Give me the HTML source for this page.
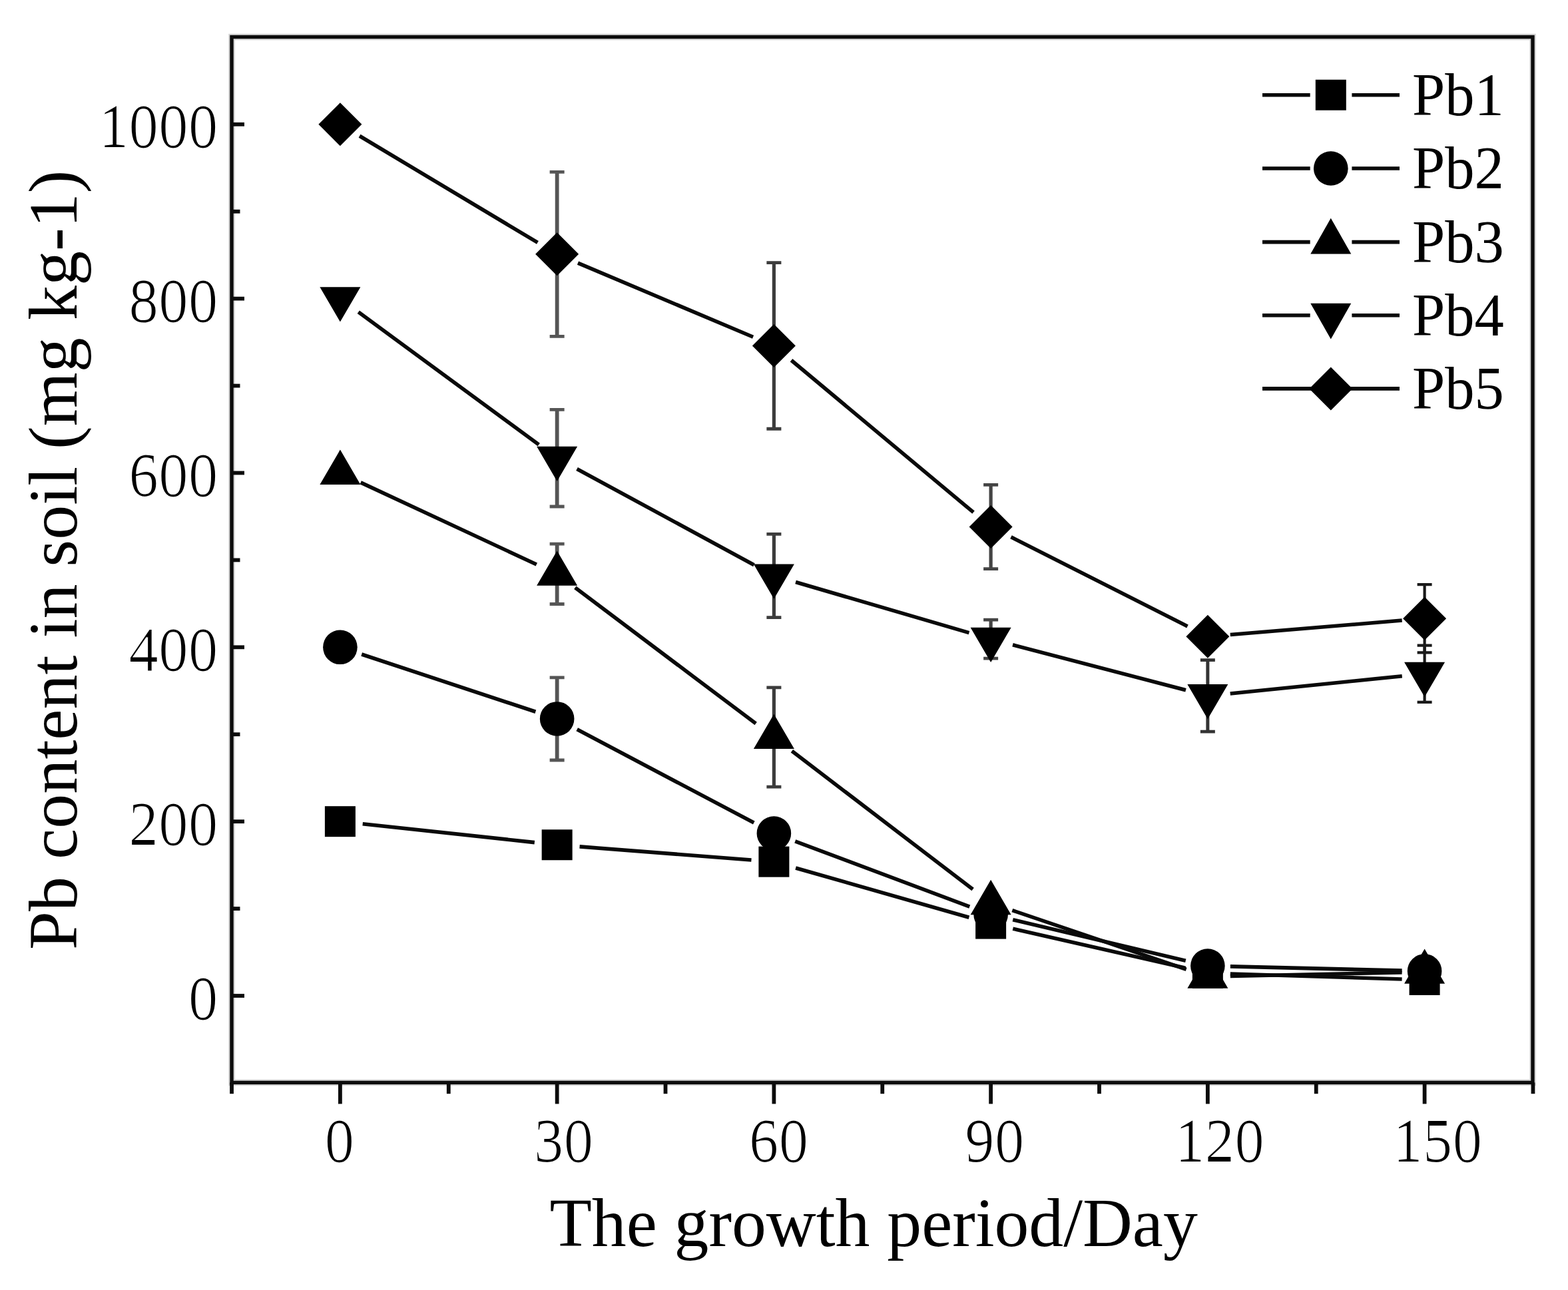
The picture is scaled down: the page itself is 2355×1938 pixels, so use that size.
<!DOCTYPE html>
<html lang="en"><head><meta charset="utf-8"><title>Pb content in soil</title>
<style>html,body{margin:0;padding:0;background:#fff;}body{width:2355px;height:1938px;overflow:hidden;}svg{display:block;}text{font-family:"Liberation Serif",serif;fill:#000;}</style></head><body>
<svg width="2355" height="1938" viewBox="0 0 2355 1938">
<rect x="0" y="0" width="2355" height="1938" fill="#fff"/>
<rect x="348.0" y="55.5" width="1954.0" height="1570.9" fill="none" stroke="#d4d4d4" stroke-width="9.5"/>
<g id="frame" fill="none" stroke="#0c0c0c" stroke-width="5.4" stroke-linecap="butt">
<rect x="348.0" y="55.5" width="1954.0" height="1570.9"/>
</g>
<g id="ticks" fill="none" stroke="#0c0c0c" stroke-width="5.8" stroke-linecap="butt">
<line x1="348.0" y1="1496.00" x2="367.0" y2="1496.00"/>
<line x1="348.0" y1="1365.08" x2="360.5" y2="1365.08"/>
<line x1="348.0" y1="1234.16" x2="367.0" y2="1234.16"/>
<line x1="348.0" y1="1103.24" x2="360.5" y2="1103.24"/>
<line x1="348.0" y1="972.32" x2="367.0" y2="972.32"/>
<line x1="348.0" y1="841.40" x2="360.5" y2="841.40"/>
<line x1="348.0" y1="710.48" x2="367.0" y2="710.48"/>
<line x1="348.0" y1="579.56" x2="360.5" y2="579.56"/>
<line x1="348.0" y1="448.64" x2="367.0" y2="448.64"/>
<line x1="348.0" y1="317.72" x2="360.5" y2="317.72"/>
<line x1="348.0" y1="186.80" x2="367.0" y2="186.80"/>
<line x1="348.03" y1="1626.4" x2="348.03" y2="1643.2"/>
<line x1="510.90" y1="1626.4" x2="510.90" y2="1658.4"/>
<line x1="673.77" y1="1626.4" x2="673.77" y2="1643.2"/>
<line x1="836.64" y1="1626.4" x2="836.64" y2="1658.4"/>
<line x1="999.51" y1="1626.4" x2="999.51" y2="1643.2"/>
<line x1="1162.38" y1="1626.4" x2="1162.38" y2="1658.4"/>
<line x1="1325.25" y1="1626.4" x2="1325.25" y2="1643.2"/>
<line x1="1488.12" y1="1626.4" x2="1488.12" y2="1658.4"/>
<line x1="1650.99" y1="1626.4" x2="1650.99" y2="1643.2"/>
<line x1="1813.86" y1="1626.4" x2="1813.86" y2="1658.4"/>
<line x1="1976.73" y1="1626.4" x2="1976.73" y2="1643.2"/>
<line x1="2139.60" y1="1626.4" x2="2139.60" y2="1658.4"/>
<line x1="2302.47" y1="1626.4" x2="2302.47" y2="1643.2"/>
</g>
<defs><filter id="thin" x="-5%" y="-5%" width="110%" height="110%"><feMorphology operator="erode" radius="1 0"/></filter></defs>
<g id="yticks" font-size="89.5" text-anchor="end" filter="url(#thin)">
<text transform="translate(327.5,1530.60) scale(1,1.03)">0</text>
<text transform="translate(327.5,1268.76) scale(1,1.03)">200</text>
<text transform="translate(327.5,1006.92) scale(1,1.03)">400</text>
<text transform="translate(327.5,745.08) scale(1,1.03)">600</text>
<text transform="translate(327.5,483.24) scale(1,1.03)">800</text>
<text transform="translate(327.5,221.40) scale(1,1.03)">1000</text>
</g>
<g id="xticks" font-size="89.5" text-anchor="start" filter="url(#thin)">
<text transform="translate(487.60,1745.4) scale(1,1.03)">0</text>
<text transform="translate(801.70,1745.4) scale(1,1.03)">30</text>
<text transform="translate(1124.80,1745.4) scale(1,1.03)">60</text>
<text transform="translate(1449.00,1745.4) scale(1,1.03)">90</text>
<text transform="translate(1764.70,1745.4) scale(1,1.03)">120</text>
<text transform="translate(2092.00,1745.4) scale(1,1.03)">150</text>
</g>
<text id="xtitle" x="825.5" y="1872.4" font-size="103.7">The growth period/Day</text>
<text id="ytitle" transform="translate(115.4,1427) rotate(-90)" font-size="104.15">Pb content in soil (mg kg-1)</text>
<g id="lines" stroke="#0a0a0a" stroke-width="5.6" stroke-linecap="butt" fill="none">
<line x1="544.70" y1="1237.80" x2="802.84" y2="1265.61"/>
<line x1="870.54" y1="1271.89" x2="1128.48" y2="1292.00"/>
<line x1="1195.07" y1="1303.97" x2="1455.43" y2="1378.27"/>
<line x1="1521.27" y1="1395.17" x2="1780.71" y2="1454.39"/>
<line x1="1847.84" y1="1463.01" x2="2105.62" y2="1470.99"/>
<line x1="543.18" y1="982.99" x2="804.36" y2="1069.27"/>
<line x1="866.70" y1="1095.81" x2="1132.32" y2="1236.09"/>
<line x1="1194.22" y1="1263.89" x2="1456.28" y2="1362.06"/>
<line x1="1521.21" y1="1381.81" x2="1780.77" y2="1443.26"/>
<line x1="1847.85" y1="1451.91" x2="2105.61" y2="1458.13"/>
<line x1="541.72" y1="724.85" x2="805.82" y2="847.98"/>
<line x1="863.80" y1="882.80" x2="1135.22" y2="1087.11"/>
<line x1="1189.39" y1="1128.22" x2="1461.11" y2="1336.05"/>
<line x1="1520.32" y1="1367.62" x2="1781.66" y2="1456.28"/>
<line x1="1847.85" y1="1466.47" x2="2105.61" y2="1460.98"/>
<line x1="538.29" y1="468.79" x2="809.25" y2="668.08"/>
<line x1="866.52" y1="704.44" x2="1132.50" y2="848.75"/>
<line x1="1195.02" y1="874.50" x2="1455.48" y2="950.61"/>
<line x1="1521.01" y1="968.75" x2="1780.97" y2="1036.77"/>
<line x1="1847.69" y1="1041.93" x2="2105.77" y2="1015.69"/>
<line x1="540.07" y1="204.27" x2="807.47" y2="364.40"/>
<line x1="867.96" y1="395.10" x2="1131.06" y2="506.24"/>
<line x1="1188.48" y1="541.26" x2="1462.02" y2="769.72"/>
<line x1="1518.46" y1="806.87" x2="1783.52" y2="941.00"/>
<line x1="1847.74" y1="953.53" x2="2105.72" y2="932.07"/>
</g>
<g id="errs" fill="none">
<path d="M836.64 1017.88V1141.99" stroke="#555" stroke-width="5.8"/>
<path d="M825.64 1017.88h22M825.64 1141.99h22" stroke="#555" stroke-width="4.8"/>
<path d="M836.64 817.18V907.51" stroke="#555" stroke-width="5.8"/>
<path d="M825.64 817.18h22M825.64 907.51h22" stroke="#555" stroke-width="4.8"/>
<path d="M1162.38 1032.94V1182.18" stroke="#3c3c3c" stroke-width="5.2"/>
<path d="M1151.38 1032.94h22M1151.38 1182.18h22" stroke="#3c3c3c" stroke-width="4.8"/>
<path d="M836.64 615.43V761.02" stroke="#555" stroke-width="5.8"/>
<path d="M825.64 615.43h22M825.64 761.02h22" stroke="#555" stroke-width="4.8"/>
<path d="M1162.38 802.39V927.55" stroke="#3c3c3c" stroke-width="5.2"/>
<path d="M1151.38 802.39h22M1151.38 927.55h22" stroke="#3c3c3c" stroke-width="4.8"/>
<path d="M1488.12 931.08V989.21" stroke="#444" stroke-width="5.2"/>
<path d="M1477.12 931.08h22M1477.12 989.21h22" stroke="#444" stroke-width="4.8"/>
<path d="M1813.86 991.70V1099.05" stroke="#333" stroke-width="5"/>
<path d="M1802.86 991.70h22M1802.86 1099.05h22" stroke="#333" stroke-width="4.8"/>
<path d="M2139.60 969.70V1054.80" stroke="#1a1a1a" stroke-width="4.2"/>
<path d="M2128.60 969.70h22M2128.60 1054.80h22" stroke="#1a1a1a" stroke-width="4.2"/>
<path d="M836.64 258.28V505.46" stroke="#555" stroke-width="5.8"/>
<path d="M825.64 258.28h22M825.64 505.46h22" stroke="#555" stroke-width="4.8"/>
<path d="M1162.38 394.70V644.23" stroke="#3c3c3c" stroke-width="5.2"/>
<path d="M1151.38 394.70h22M1151.38 644.23h22" stroke="#3c3c3c" stroke-width="4.8"/>
<path d="M1488.12 728.42V854.62" stroke="#444" stroke-width="5.2"/>
<path d="M1477.12 728.42h22M1477.12 854.62h22" stroke="#444" stroke-width="4.8"/>
<path d="M2139.60 878.19V980.31" stroke="#1a1a1a" stroke-width="4.2"/>
<path d="M2128.60 878.19h22M2128.60 980.31h22" stroke="#1a1a1a" stroke-width="4.2"/>
</g>
<g id="markers" fill="#000">
<rect x="487.90" y="1211.16" width="46.0" height="46.0"/>
<rect x="813.64" y="1246.25" width="46.0" height="46.0"/>
<rect x="1139.38" y="1271.65" width="46.0" height="46.0"/>
<rect x="1465.12" y="1364.60" width="46.0" height="46.0"/>
<rect x="1790.86" y="1438.96" width="46.0" height="46.0"/>
<rect x="2116.60" y="1449.04" width="46.0" height="46.0"/>
<circle cx="510.90" cy="972.32" r="25.8"/>
<circle cx="836.64" cy="1079.94" r="25.8"/>
<circle cx="1162.38" cy="1251.97" r="25.8"/>
<circle cx="1488.12" cy="1373.98" r="25.8"/>
<circle cx="1813.86" cy="1451.09" r="25.8"/>
<circle cx="2139.60" cy="1458.95" r="25.8"/>
<polygon points="510.90,675.61 541.40,727.91 480.40,727.91"/>
<polygon points="836.64,827.48 867.14,879.78 806.14,879.78"/>
<polygon points="1162.38,1072.69 1192.88,1124.99 1131.88,1124.99"/>
<polygon points="1488.12,1321.83 1518.62,1374.13 1457.62,1374.13"/>
<polygon points="1813.86,1432.33 1844.36,1484.63 1783.36,1484.63"/>
<polygon points="2139.60,1425.39 2170.10,1477.69 2109.10,1477.69"/>
<polygon points="510.90,483.51 541.40,431.21 480.40,431.21"/>
<polygon points="836.64,723.09 867.14,670.79 806.14,670.79"/>
<polygon points="1162.38,899.83 1192.88,847.53 1131.88,847.53"/>
<polygon points="1488.12,995.01 1518.62,942.71 1457.62,942.71"/>
<polygon points="1813.86,1080.24 1844.36,1027.94 1783.36,1027.94"/>
<polygon points="2139.60,1047.12 2170.10,994.82 2109.10,994.82"/>
<polygon points="510.90,154.30 543.40,186.80 510.90,219.30 478.40,186.80"/>
<polygon points="836.64,349.37 869.14,381.87 836.64,414.37 804.14,381.87"/>
<polygon points="1162.38,486.97 1194.88,519.47 1162.38,551.97 1129.88,519.47"/>
<polygon points="1488.12,759.02 1520.62,791.52 1488.12,824.02 1455.62,791.52"/>
<polygon points="1813.86,923.85 1846.36,956.35 1813.86,988.85 1781.36,956.35"/>
<polygon points="2139.60,896.75 2172.10,929.25 2139.60,961.75 2107.10,929.25"/>
</g>
<g id="legend">
<path d="M1896.0 142.7H1967.7M2030.4 142.7H2102.0" stroke="#0a0a0a" stroke-width="5.6" fill="none"/>
<rect x="1975.80" y="119.70" width="46.0" height="46.0"/>
<text transform="translate(2121.0,173.0) scale(0.985,1)" font-size="90">Pb1</text>
<path d="M1896.0 253.0H1967.7M2030.4 253.0H2102.0" stroke="#0a0a0a" stroke-width="5.6" fill="none"/>
<circle cx="1998.80" cy="253.00" r="25.8"/>
<text transform="translate(2121.0,283.3) scale(0.985,1)" font-size="90">Pb2</text>
<path d="M1896.0 363.6H1967.7M2030.4 363.6H2102.0" stroke="#0a0a0a" stroke-width="5.6" fill="none"/>
<polygon points="1998.80,327.87 2029.30,381.47 1968.30,381.47"/>
<text transform="translate(2121.0,393.9) scale(0.985,1)" font-size="90">Pb3</text>
<path d="M1896.0 473.7H1967.7M2030.4 473.7H2102.0" stroke="#0a0a0a" stroke-width="5.6" fill="none"/>
<polygon points="1998.80,509.43 2029.30,455.83 1968.30,455.83"/>
<text transform="translate(2121.0,504.0) scale(0.985,1)" font-size="90">Pb4</text>
<line x1="1896.0" y1="583.9" x2="2102.0" y2="583.9" stroke="#0a0a0a" stroke-width="5.6"/>
<polygon points="1998.80,551.40 2031.30,583.90 1998.80,616.40 1966.30,583.90"/>
<text transform="translate(2121.0,614.2) scale(0.985,1)" font-size="90">Pb5</text>
</g>
</svg></body></html>
